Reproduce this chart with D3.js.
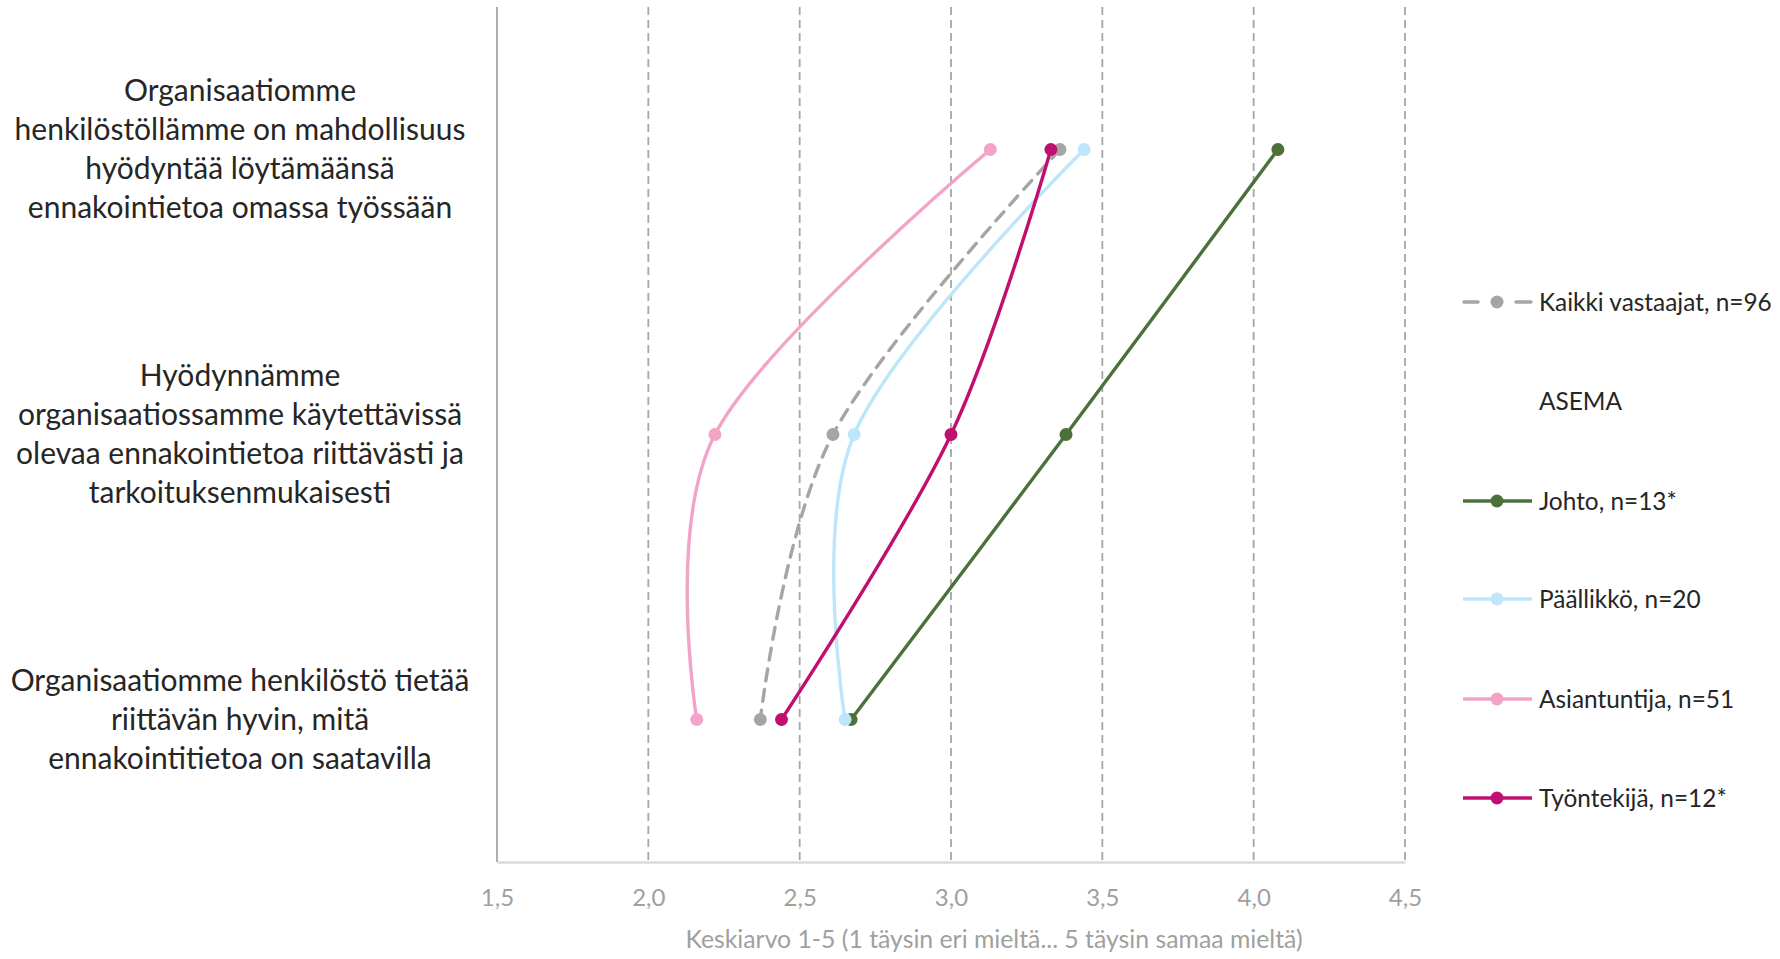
<!DOCTYPE html>
<html><head><meta charset="utf-8">
<script src="https://cdn.jsdelivr.net/npm/d3@7"></script>
<style>
body{margin:0;background:#fff;}
svg{display:block;font-family:Lato, "Open Sans", sans-serif;}
</style></head>
<body>
<svg id="chart" width="1780" height="959"></svg>
<script>
const categories = [
  ["Organisaatiomme","henkilöstöllämme on mahdollisuus","hyödyntää löytämäänsä","ennakointietoa omassa työssään"],
  ["Hyödynnämme","organisaatiossamme käytettävissä","olevaa ennakointietoa riittävästi ja","tarkoituksenmukaisesti"],
  ["Organisaatiomme henkilöstö tietää","riittävän hyvin, mitä","ennakointitietoa on saatavilla"]
];
const categoryKeys = ["q1","q2","q3"];
const seriesNames = ["Kaikki vastaajat, n=96","Johto, n=13*","Päällikkö, n=20","Asiantuntija, n=51","Työntekijä, n=12*"];
const kaikki = [3.36, 2.61, 2.37];
const johto = [4.08, 3.38, 2.67];
const paallikko = [3.44, 2.68, 2.65];
const asiantuntija = [3.13, 2.22, 2.16];
const tyontekija = [3.33, 3.00, 2.44];
const xTicks = [1.5, 2.0, 2.5, 3.0, 3.5, 4.0, 4.5];
const xTitle = "Keskiarvo 1-5 (1 täysin eri mieltä... 5 täysin samaa mieltä)";
const legendHeading = "ASEMA";

const colors = ["#A5A5A5","#4B7039","#BDE6FA","#F4A3C8","#C00F6F"];
const seriesValues = [kaikki, johto, paallikko, asiantuntija, tyontekija];

const svg = d3.select("#chart");
const x = d3.scaleLinear().domain([1.5, 4.5]).range([497, 1405]);
const y = d3.scalePoint().domain(categoryKeys).range([7, 862]).padding(0.5);

// gridlines
svg.append("g").selectAll("line").data(xTicks.slice(1)).join("line")
  .attr("x1", d => x(d)).attr("x2", d => x(d))
  .attr("y1", 7).attr("y2", 862)
  .attr("stroke", "#A6A6A6").attr("stroke-width", 1.8)
  .attr("stroke-dasharray", "8,5");
// left axis line
svg.append("line").attr("x1", x(1.5)).attr("x2", x(1.5)).attr("y1", 7).attr("y2", 862)
  .attr("stroke", "#A6A6A6").attr("stroke-width", 1.8);
// bottom axis
const xAxis = d3.axisBottom(x).tickValues(xTicks).tickSize(0).tickPadding(0)
  .tickFormat(d => d3.format(".1f")(d).replace(".", ","));
const ax = svg.append("g").attr("transform", "translate(0,862)").call(xAxis);
ax.select(".domain").attr("stroke", "#D3DCDF").attr("stroke-width", 2.5);
ax.selectAll("text").attr("fill", "#A0A0A0").attr("font-size", 24)
  .attr("font-family", "Lato, sans-serif").attr("dy", null).attr("y", 44);

svg.append("text").attr("x", 994).attr("y", 948).attr("text-anchor", "middle")
  .attr("fill", "#A0A0A0").attr("font-size", 24.8).text(xTitle);

// category labels
categories.forEach((lines, i) => {
  const cy = y(categoryKeys[i]);
  const lh = 39;
  const t = svg.append("text").attr("text-anchor", "middle").attr("fill", "#262626").attr("font-size", 30);
  lines.forEach((ln, j) => {
    t.append("tspan").attr("x", 240)
      .attr("y", cy + (j - (lines.length - 1) / 2) * lh + 10).text(ln);
  });
});

// series
const line = d3.line().x(d => x(d.v)).y(d => y(d.k)).curve(d3.curveCardinal.tension(0));
seriesValues.forEach((vals, s) => {
  const data = vals.map((v, i) => ({v, k: categoryKeys[i]}));
  const g = svg.append("g");
  g.append("path").datum(data).attr("d", line).attr("fill", "none")
    .attr("stroke", colors[s]).attr("stroke-width", 3.4)
    .attr("stroke-dasharray", s === 0 ? "12,9" : null)
    .attr("stroke-linecap", s === 0 ? "round" : "butt");
  g.selectAll("circle").data(data).join("circle")
    .attr("cx", d => x(d.v)).attr("cy", d => y(d.k)).attr("r", 6.5).attr("fill", colors[s]);
});

// legend
const legY = [302, 501, 599, 699, 798];
const leg = svg.append("g");
seriesNames.forEach((name, s) => {
  const ly = legY[s];
  const g = leg.append("g");
  if (s === 0) {
    g.append("line").attr("x1", 1464).attr("x2", 1478).attr("y1", ly).attr("y2", ly)
      .attr("stroke", colors[s]).attr("stroke-width", 3.4).attr("stroke-linecap","round");
    g.append("line").attr("x1", 1516).attr("x2", 1531).attr("y1", ly).attr("y2", ly)
      .attr("stroke", colors[s]).attr("stroke-width", 3.4).attr("stroke-linecap","round");
  } else {
    g.append("line").attr("x1", 1463).attr("x2", 1532).attr("y1", ly).attr("y2", ly)
      .attr("stroke", colors[s]).attr("stroke-width", 3.4);
  }
  g.append("circle").attr("cx", 1497).attr("cy", ly).attr("r", 6.5).attr("fill", colors[s]);
  g.append("text").attr("x", 1539).attr("y", ly + 8.5).attr("fill", "#262626")
    .attr("font-size", 24.4).text(name);
});
leg.append("text").attr("x", 1539).attr("y", 401 + 8.5).attr("fill", "#262626")
  .attr("font-size", 24.4).text(legendHeading);
</script>
</body></html>
